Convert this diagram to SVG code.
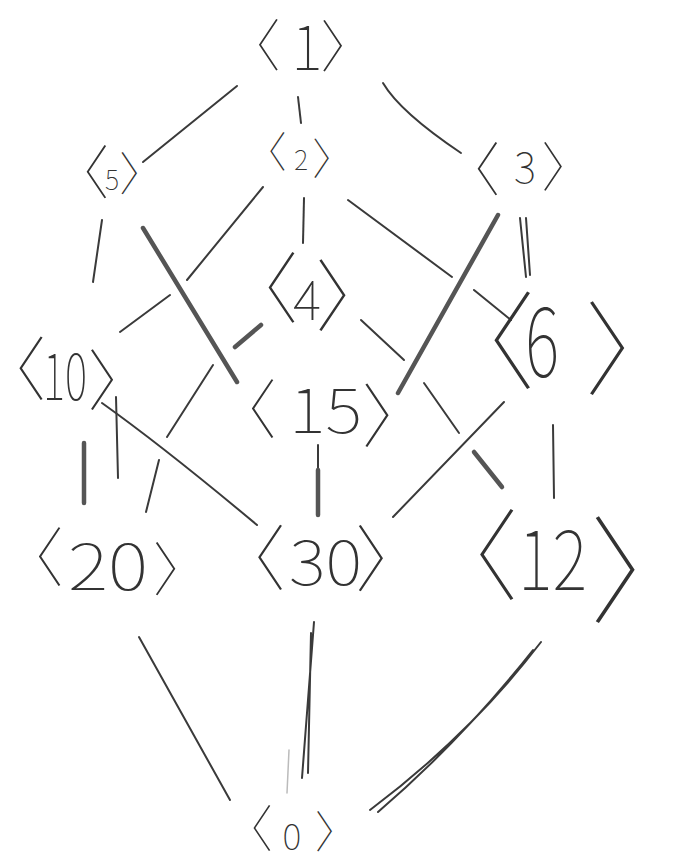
<svg xmlns="http://www.w3.org/2000/svg" width="683" height="862" viewBox="0 0 683 862">
<style>
.e{fill:none;stroke:#3a3a3a;stroke-width:2;stroke-linecap:round}
.t{fill:none;stroke:#555555;stroke-width:4.5;stroke-linecap:round}
.f{fill:none;stroke:#bbbbbb;stroke-width:1.5;stroke-linecap:round}
.lb{font-family:"Noto Sans CJK SC","DejaVu Sans",sans-serif;fill:#333333;font-weight:100;text-anchor:middle;font-feature-settings:"palt"}
.d{text-anchor:start}
</style>
<rect width="683" height="862" fill="#ffffff"/>
<g id="connectors">
<path class="e" d="M237,86 L143,162"/>
<path class="e" d="M298,97 L301,123"/>
<path class="e" d="M383,83 Q400,112 461,153"/>
<path class="e" d="M102,220 L93,282"/>
<path class="t" d="M143,228 L237,382"/>
<path class="e" d="M263,187 L187,280 M170,295 L120,332"/>
<path class="e" d="M304,198 L303,243"/>
<path class="e" d="M348,200 L452,277 M474,290 L511,320"/>
<path class="t" d="M498,215 L398,393"/>
<path class="e" d="M520,218 L526,277 M526,218 L530,275"/>
<path class="t" d="M261,325 L235,347"/>
<path class="e" d="M213,365 L167,437 M159,460 L146,512"/>
<path class="e" d="M361,320 L404,360 M424,383 L459,433"/>
<path class="t" d="M474,452 L502,487"/>
<path class="t" d="M84,443 L84,503"/>
<path class="e" d="M116,397 L118,478"/>
<path class="e" d="M102,403 Q165,448 257,525"/>
<path class="e" d="M318,445 L318,470"/>
<path class="t" d="M318,470 L318,515"/>
<path class="e" d="M504,402 L393,517"/>
<path class="e" d="M553,425 L554,498"/>
<path class="e" d="M139,637 L230,800"/>
<path class="e" d="M314,622 L302,778 M311,633 L308,773"/>
<path class="f" d="M289,750 L287,793"/>
<path class="e" d="M541,642 Q470,735 370,810 M533,650 Q462,740 378,812"/>
</g>
<g id="n1"><text class="lb"><tspan x="265" y="66" font-size="56">〈</tspan><tspan x="307" y="70" font-size="60">1</tspan><tspan x="336" y="67" font-size="56">〉</tspan></text></g>
<g id="n5"><text class="lb"><tspan x="93" y="194" font-size="58">〈</tspan><tspan x="112" y="190" font-size="27">5</tspan><tspan x="132" y="190" font-size="46">〉</tspan></text></g>
<g id="n2"><text class="lb"><tspan x="275" y="167" font-size="42">〈</tspan><tspan x="301" y="170" font-size="27">2</tspan><tspan x="324" y="175" font-size="43">〉</tspan></text></g>
<g id="n3"><text class="lb"><tspan x="484" y="191" font-size="58">〈</tspan><tspan x="525" y="183" font-size="42">3</tspan><tspan x="556" y="187" font-size="53">〉</tspan></text></g>
<g id="n4"><text class="lb"><tspan x="277" y="317" font-size="77">〈</tspan><tspan x="307" y="320" font-size="54">4</tspan><tspan x="337" y="325" font-size="78">〉</tspan></text></g>
<g id="n10"><text class="lb"><tspan x="27" y="395" font-size="69">〈</tspan><tspan class="d" x="43" y="400" font-size="63" textLength="44" lengthAdjust="spacingAndGlyphs">10</tspan><tspan x="106" y="405" font-size="66">〉</tspan></text></g>
<g id="n6"><text class="lb"><tspan x="506" y="380" font-size="106">〈</tspan><tspan class="d" x="525" y="377" font-size="95" textLength="34" lengthAdjust="spacingAndGlyphs">6</tspan><tspan x="613" y="387" font-size="102">〉</tspan></text></g>
<g id="n15"><text class="lb"><tspan x="259" y="433" font-size="64">〈</tspan><tspan class="d" x="289" y="433" font-size="61" textLength="73" lengthAdjust="spacingAndGlyphs">15</tspan><tspan x="381" y="442" font-size="69">〉</tspan></text></g>
<g id="n20"><text class="lb"><tspan x="46" y="581" font-size="64">〈</tspan><tspan class="d" x="68" y="590" font-size="63" textLength="80" lengthAdjust="spacingAndGlyphs">20</tspan><tspan x="169" y="591" font-size="58">〉</tspan></text></g>
<g id="n30"><text class="lb"><tspan x="266" y="584" font-size="71">〈</tspan><tspan class="d" x="289" y="585" font-size="61" textLength="73" lengthAdjust="spacingAndGlyphs">30</tspan><tspan x="375" y="585" font-size="72">〉</tspan></text></g>
<g id="n12"><text class="lb"><tspan x="491" y="592" font-size="99">〈</tspan><tspan class="d" x="518" y="590" font-size="81" textLength="69" lengthAdjust="spacingAndGlyphs">12</tspan><tspan x="622" y="614" font-size="116">〉</tspan></text></g>
<g id="n0"><text class="lb"><tspan x="259" y="847" font-size="50">〈</tspan><tspan x="292" y="850" font-size="36">0</tspan><tspan x="327" y="848" font-size="44">〉</tspan></text></g>
</svg>
